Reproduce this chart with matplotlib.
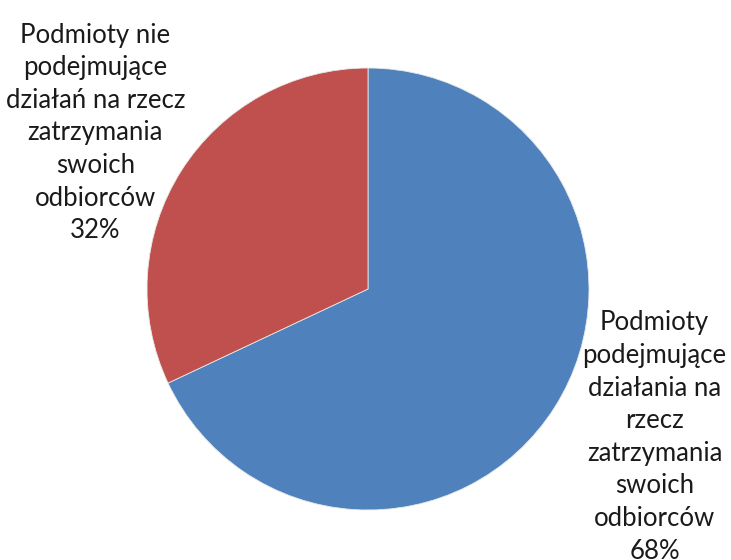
import matplotlib.pyplot as plt

# udział podmiotów (%)
labels = ["Podmioty\npodejmujące\ndziałania na\nrzecz\nzatrzymania\nswoich\nodbiorców",
          "Podmioty nie\npodejmujące\ndziałań na rzecz\nzatrzymania\nswoich\nodbiorców"]
shares = [68, 32]
colors = ["#4F81BD", "#C0504D"]

plt.rcParams['font.family'] = ['Lato', 'DejaVu Sans']

W, H = 731, 560
fig = plt.figure(figsize=(W / 100, H / 100), dpi=100)
cx, cy, r = 368, 289, 221
ax = fig.add_axes([(cx - r) / W, (H - cy - r) / H, 2 * r / W, 2 * r / H])

wedges, _ = ax.pie(shares, colors=colors, startangle=90, counterclock=False,
                   radius=1, wedgeprops=dict(edgecolor="#e8e8e8", linewidth=0.6))
ax.set_xlim(-1, 1)
ax.set_ylim(-1, 1)
ax.set_aspect('equal')
ax.axis('off')

# etykiety z wartością procentową
pos = [(1.297, -0.670), (-1.234, 0.706)]
for lab, val, (x, y) in zip(labels, shares, pos):
    ax.text(x, y, f"{lab}\n{val}%", ha='center', va='center', fontsize=18.5,
            color='#1a1a1a', linespacing=1.38, clip_on=False)

fig.savefig("out.png", dpi=100)
